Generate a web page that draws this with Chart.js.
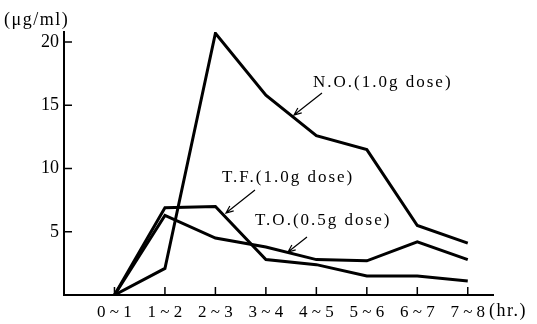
<!DOCTYPE html>
<html>
<head>
<meta charset="utf-8">
<script src="https://cdn.jsdelivr.net/npm/chart.js@4/dist/chart.umd.min.js"></script>
<style>
  html, body { margin: 0; padding: 0; background: #fff; }
  #wrap { width: 537px; height: 324px; position: relative; }
</style>
</head>
<body>
<div id="wrap"><canvas id="chartConc"></canvas></div>
<script>
// intervalos de coleta (hr.)
const intervalos = ['0 ~ 1', '1 ~ 2', '2 ~ 3', '3 ~ 4', '4 ~ 5', '5 ~ 6', '6 ~ 7', '7 ~ 8'];
// concentracoes (µg/ml)
const serieNO = [0, 2.1, 20.7, 15.8, 12.6, 11.5, 5.5, 4.1];
const serieTF = [0, 6.9, 7.0, 2.8, 2.4, 1.5, 1.5, 1.1];
const serieTO = [0, 6.3, 4.5, 3.8, 2.8, 2.7, 4.2, 2.8];
const yTicks = [5, 10, 15, 20];

const FONTE = '"Liberation Serif", "DejaVu Serif", serif';

function pontos(valores) {
    return valores.map((v, i) => ({ x: i, y: v }));
}

// marcas de escala para dentro + textos e setas
const decoracao = {
    id: 'decoracao',
    afterDraw(chart) {
        const ctx = chart.ctx;
        const xs = chart.scales.x;
        const ys = chart.scales.y;
        const area = chart.chartArea;
        ctx.save();
        ctx.strokeStyle = '#000';
        ctx.lineWidth = 1.5;
        ctx.beginPath();
        intervalos.forEach((_, i) => {
            const px = xs.getPixelForValue(i);
            ctx.moveTo(px, area.bottom);
            ctx.lineTo(px, area.bottom - 8);
        });
        yTicks.forEach(v => {
            const py = ys.getPixelForValue(v);
            ctx.moveTo(area.left, py);
            ctx.lineTo(area.left + 8, py);
        });
        ctx.stroke();

        ctx.fillStyle = '#000';
        ctx.textBaseline = 'middle';
        ctx.textAlign = 'left';
        ctx.font = '18px ' + FONTE;
        ctx.letterSpacing = '1.5px';
        ctx.fillText('(\u03BCg/ml)', 4, 20);
        ctx.fillText('(hr.)', 489, 311);

        ctx.font = '17px ' + FONTE;
        ctx.letterSpacing = '2px';
        ctx.fillText('N.O.(1.0g dose)', 313, 83);
        ctx.fillText('T.F.(1.0g dose)', 222, 178);
        ctx.fillText('T.O.(0.5g dose)', 255, 221);
        ctx.letterSpacing = '0px';

        const setas = [
            [322, 93, 294, 115],
            [255, 190, 226, 213],
            [307, 237, 288, 252]
        ];
        ctx.lineWidth = 1.2;
        setas.forEach(([x1, y1, x2, y2]) => {
            const ang = Math.atan2(y2 - y1, x2 - x1);
            ctx.beginPath();
            ctx.moveTo(x1, y1);
            ctx.lineTo(x2, y2);
            ctx.moveTo(x2 - 8 * Math.cos(ang - 0.4), y2 - 8 * Math.sin(ang - 0.4));
            ctx.lineTo(x2, y2);
            ctx.lineTo(x2 - 8 * Math.cos(ang + 0.4), y2 - 8 * Math.sin(ang + 0.4));
            ctx.stroke();
        });
        ctx.restore();
    }
};

const estiloLinha = {
    borderColor: '#000',
    borderWidth: 3,
    pointRadius: 0,
    tension: 0,
    fill: false,
    borderJoinStyle: 'miter'
};

new Chart(document.getElementById('chartConc'), {
    type: 'line',
    data: {
        datasets: [
            { label: 'N.O.(1.0g dose)', data: pontos(serieNO), ...estiloLinha },
            { label: 'T.F.(1.0g dose)', data: pontos(serieTF), ...estiloLinha },
            { label: 'T.O.(0.5g dose)', data: pontos(serieTO), ...estiloLinha }
        ]
    },
    options: {
        responsive: true,
        maintainAspectRatio: false,
        animation: false,
        layout: { padding: { top: 32, right: 44, left: 0, bottom: 0 } },
        plugins: {
            legend: { display: false },
            tooltip: { enabled: false }
        },
        scales: {
            x: {
                type: 'linear',
                min: -1,
                max: 7.5,
                afterBuildTicks: s => { s.ticks = intervalos.map((_, i) => ({ value: i })); },
                afterFit: s => { s.height = 29; },
                border: { display: true, color: '#000', width: 2 },
                grid: { display: false, drawTicks: false },
                ticks: {
                    autoSkip: false,
                    maxRotation: 0,
                    padding: 7,
                    color: '#000',
                    font: { family: FONTE, size: 17 },
                    callback: v => intervalos[v] ?? ''
                }
            },
            y: {
                min: 0,
                max: 20.8,
                afterBuildTicks: s => { s.ticks = yTicks.map(v => ({ value: v })); },
                afterFit: s => { s.width = 64; },
                border: { display: true, color: '#000', width: 2 },
                grid: { display: false, drawTicks: false },
                ticks: {
                    padding: 5,
                    color: '#000',
                    font: { family: FONTE, size: 18 }
                }
            }
        }
    },
    plugins: [decoracao]
});
</script>
</body>
</html>
